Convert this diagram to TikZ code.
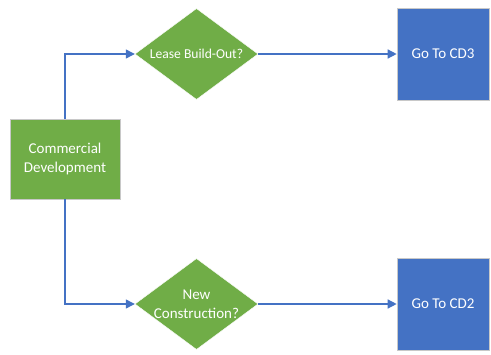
\documentclass[tikz,border=0pt]{standalone}
\usepackage{fontspec}
\setmainfont{Carlito}
\usetikzlibrary{shapes.geometric,arrows.meta}
\definecolor{fgreen}{HTML}{70AD47}
\definecolor{fblue}{HTML}{4472C4}
\definecolor{edgegray}{HTML}{C8C8C8}
\tikzset{
  procbox/.style={rectangle, fill=fgreen, draw=edgegray, line width=0.6pt, text=white,
    minimum width=110pt, minimum height=80pt, inner sep=0pt, align=center, font=\fontsize{15}{19}\selectfont},
  decision/.style={diamond, fill=fgreen, draw=white, line width=0.4pt,
    minimum width=123pt, minimum height=91pt, inner sep=0pt, aspect=1.35},
  decisiontext/.style={text=white, align=center, inner sep=0pt},
  gobox/.style={rectangle, fill=fblue, draw=edgegray, line width=0.6pt, text=white,
    minimum width=92pt, minimum height=92pt, inner sep=0pt, align=center, font=\fontsize{15}{19}\selectfont},
  flow/.style={draw=fblue, line width=1.3pt, -{Triangle[length=9pt, width=9pt]}},
}
\begin{document}
\begin{tikzpicture}[x=1pt, y=-1pt]
  \useasboundingbox (0,0) rectangle (491,355);
  % start box
  \node[procbox] (cd) at (65,159) {Commercial\\Development};
  % decisions
  \node[decision] (lease) at (196.5,54) {};
  \node[decisiontext, font=\fontsize{13.6}{16}\selectfont] (leaselabel) at (lease.center) {Lease Build-Out?};
  \node[decision] (newc) at (196.5,304) {};
  \node[decisiontext, font=\fontsize{15}{19.5}\selectfont] (newclabel) at (newc.center) {New\\Construction?};
  % targets
  \node[gobox] (cd3) at (443,54) {Go To CD3};
  \node[gobox] (cd2) at (443,304) {Go To CD2};
  % connectors
  \draw[flow] (cd.north) |- (lease.west);
  \draw[flow] (cd.south) |- (newc.west);
  \draw[flow] (lease.east) -- (cd3.west);
  \draw[flow] (newc.east) -- (cd2.west);
\end{tikzpicture}
\end{document}
